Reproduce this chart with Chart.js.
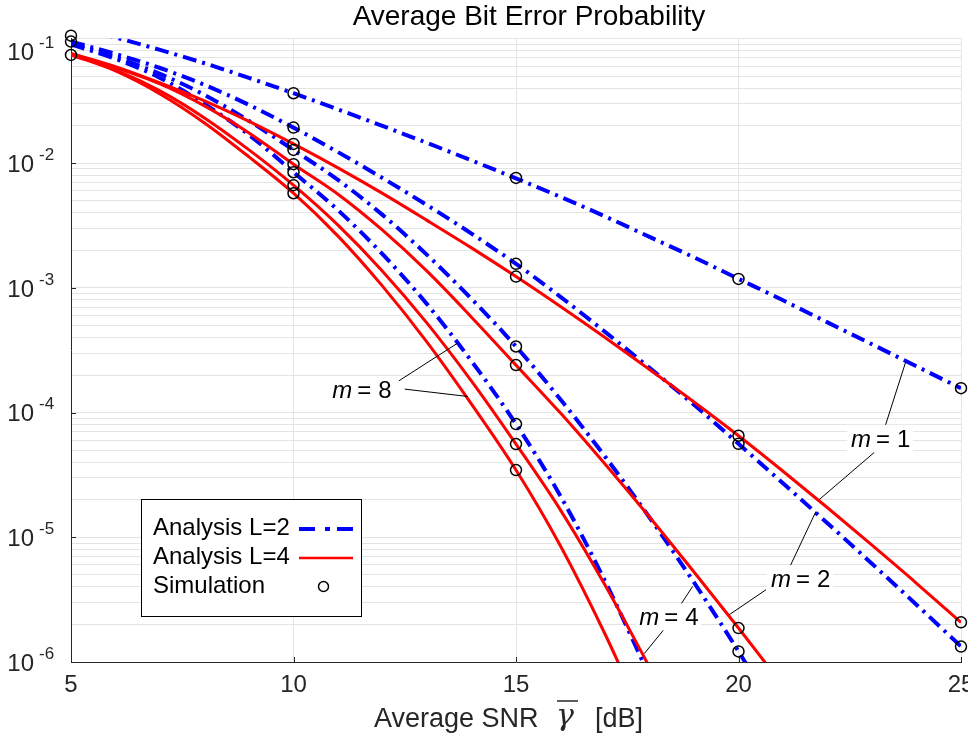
<!DOCTYPE html>
<html>
<head>
<meta charset="utf-8">
<title>Average Bit Error Probability</title>
<script src="https://cdn.jsdelivr.net/npm/chart.js@4.4.1/dist/chart.umd.min.js"></script>
<style>
    html, body { margin: 0; padding: 0; background: #fff; }
    canvas { display: block; }
</style>
</head>
<body>
<canvas id="berChart" width="968" height="737"></canvas>
<script>
// SNR grid of the analysis curves (dB)
const snrDb = [5, 6, 7, 8, 9, 10, 11, 12, 13, 14, 15, 16, 17, 18, 19, 20, 21, 22, 23, 24, 25];

// Analysis, L = 2 (blue, dash-dot)
const berL2m1 = [0.1249, 0.1019, 0.0810, 0.0633, 0.0483, 0.0364, 0.0270, 0.0199, 0.01455, 0.01053, 0.00755, 0.00537, 0.003746, 0.002566, 0.001757, 0.001182, 7.95e-4, 5.29e-4, 3.53e-4, 2.35e-4, 1.566e-4];
const berL2m2 = [0.0944, 0.0752, 0.0580, 0.04243, 0.02933, 0.01929, 0.01227, 0.00760, 0.004614, 0.002727, 0.001559, 8.48e-4, 4.44e-4, 2.286e-4, 1.155e-4, 5.62e-5, 2.712e-5, 1.296e-5, 6.14e-6, 2.88e-6, 1.334e-6];
const berL2m4 = [0.0913, 0.0711, 0.0520, 0.03528, 0.02183, 0.01278, 0.007345, 0.003851, 0.001840, 8.17e-4, 3.388e-4, 1.274e-4, 4.446e-5, 1.442e-5, 4.345e-6, 1.216e-6, 3.14e-7];
const berL2m8 = [0.0896, 0.0686, 0.0483, 0.02988, 0.01686, 0.008468, 0.004200, 0.001865, 7.41e-4, 2.587e-4, 8.09e-5, 2.142e-5, 4.46e-6, 7.72e-7];

// Analysis, L = 4 (red, solid)
const berL4m1 = [0.0760, 0.0595, 0.04403, 0.03158, 0.02163, 0.01428, 0.00917, 0.005725, 0.003479, 0.002094, 0.001233, 7.09e-4, 4.0e-4, 2.215e-4, 1.216e-4, 6.52e-5, 3.385e-5, 1.725e-5, 8.64e-6, 4.28e-6, 2.077e-6];
const berL4m2 = [0.0752, 0.0585, 0.04321, 0.02879, 0.01749, 0.00982, 0.005642, 0.002903, 0.001362, 5.825e-4, 2.403e-4, 9.91e-5, 3.866e-5, 1.453e-5, 5.265e-6, 1.873e-6, 6.46e-7];
const berL4m4 = [0.0745, 0.05597, 0.03799, 0.02307, 0.01278, 0.006662, 0.003184, 0.001362, 5.218e-4, 1.789e-4, 5.591e-5, 1.653e-5, 4.142e-6, 9.12e-7];
const berL4m8 = [0.0740, 0.05495, 0.03593, 0.02104, 0.01123, 0.005746, 0.002600, 0.001033, 3.675e-4, 1.17e-4, 3.461e-5, 8.51e-6, 1.677e-6, 2.75e-7];

// Simulation (circles)
const simSnr = [5, 5, 5, 10, 10, 10, 10, 10, 10, 10, 10, 15, 15, 15, 15, 15, 15, 15, 15, 20, 20, 20, 20, 20, 25, 25, 25];
const simBer = [0.1053, 0.0944, 0.0738,
    0.0364, 0.01929, 0.01428, 0.01278, 0.00982, 0.008468, 0.006662, 0.005746,
    0.00762, 0.001559, 0.001233, 3.388e-4, 2.403e-4, 8.09e-5, 5.59e-5, 3.46e-5,
    0.00118, 6.52e-5, 5.62e-5, 1.87e-6, 1.216e-6,
    1.57e-4, 2.08e-6, 1.33e-6];

// Axis ticks
const xTicks = [5, 10, 15, 20, 25];
const yDecades = [1e-6, 1e-5, 1e-4, 1e-3, 1e-2, 1e-1];

// m = ... callouts, anchored in data units
const mLabels = [
    { m: "1", x: 22.53, y: 5.32e-5, lines: [[23.27, 7.28e-5, 23.76, 2.568e-4], [23.05, 4.79e-5, 21.81, 2.0e-5]] },
    { m: "2", x: 20.73, y: 3.99e-6, lines: [[21.14, 5.67e-6, 21.74, 1.612e-5], [20.62, 3.80e-6, 19.79, 2.39e-6]] },
    { m: "4", x: 17.77, y: 1.965e-6, lines: [[18.60, 2.544e-6, 18.97, 4.04e-6], [18.37, 1.908e-6, 17.88, 1.165e-6]] },
    { m: "8", x: 10.87, y: 1.306e-4, lines: [[12.37, 1.80e-4, 13.69, 3.61e-4], [12.50, 1.543e-4, 13.92, 1.346e-4]] }
];

const FONT = "\"Liberation Sans\", Arial, Helvetica, sans-serif";
const BLUE = "#0000ff";
const RED = "#ff0000";
const AXIS = "#262626";
const GRID = "#e4e4e4";

const toPoints = (xs, ys) => ys.map((v, i) => ({ x: xs[i], y: v }));

// all 1..9 x 10^k grid lines between 1e-6 and 1e-1
const yGrid = [];
yDecades.forEach((d, i) => {
    if (i === yDecades.length - 1) { yGrid.push(d); return; }
    for (let k = 1; k <= 9; k++) yGrid.push(+(k * d).toPrecision(3));
});

function analysisLine(data, color, dashed) {
    return {
        type: "line",
        data: toPoints(snrDb, data),
        borderColor: color,
        borderWidth: dashed ? 4 : 3,
        borderDash: dashed ? [14, 6, 3, 6] : [],
        pointRadius: 0,
        fill: false,
        cubicInterpolationMode: "monotone",
        order: dashed ? 2 : 1
    };
}

const overlay = {
    id: "overlay",
    afterDraw(chart) {
        const { ctx, chartArea: a, scales: { x, y } } = chart;
        ctx.save();

        // inward tick marks
        ctx.strokeStyle = AXIS;
        ctx.lineWidth = 1;
        ctx.beginPath();
        yDecades.forEach(v => {
            const py = Math.round(y.getPixelForValue(v)) + 0.5;
            ctx.moveTo(a.left, py);
            ctx.lineTo(a.left + 5, py);
        });
        xTicks.forEach(v => {
            const px = Math.round(x.getPixelForValue(v)) + 0.5;
            ctx.moveTo(px, a.bottom);
            ctx.lineTo(px, a.bottom - 5);
        });
        ctx.stroke();

        // y tick labels 10^-k
        ctx.fillStyle = AXIS;
        ctx.textBaseline = "middle";
        yDecades.forEach(v => {
            const k = Math.round(Math.log10(v));
            const cy = Math.max(y.getPixelForValue(v) + 2, 53);
            ctx.font = "24px " + FONT;
            ctx.textAlign = "right";
            ctx.fillText("10", 34, cy);
            ctx.font = "17px " + FONT;
            ctx.textAlign = "left";
            ctx.fillText("-" + (-k), 39, cy - 10);
        });

        // title
        ctx.fillStyle = "#000";
        ctx.textBaseline = "alphabetic";
        ctx.textAlign = "center";
        ctx.font = "28px " + FONT;
        ctx.fillText("Average Bit Error Probability", 529, 25);

        // x axis title with gamma bar
        ctx.fillStyle = AXIS;
        ctx.textAlign = "left";
        ctx.font = "27px " + FONT;
        ctx.fillText("Average SNR", 374, 727);
        ctx.font = "italic 30px \"DejaVu Serif\", serif";
        ctx.fillText("\u03b3", 556, 725);
        ctx.font = "27px " + FONT;
        ctx.fillText("[dB]", 595, 727);
        ctx.strokeStyle = AXIS;
        ctx.lineWidth = 1.5;
        ctx.beginPath();
        ctx.moveTo(557, 701);
        ctx.lineTo(578, 701);
        ctx.stroke();

        // legend box
        ctx.fillStyle = "#fff";
        ctx.fillRect(141, 499, 220, 117);
        ctx.strokeStyle = "#000";
        ctx.lineWidth = 1;
        ctx.strokeRect(141.5, 499.5, 220, 117);
        ctx.fillStyle = "#000";
        ctx.font = "24px " + FONT;
        ctx.textBaseline = "middle";
        ctx.fillText("Analysis L=2", 153, 528);
        ctx.fillText("Analysis L=4", 153, 557);
        ctx.fillText("Simulation", 153, 586);
        ctx.lineWidth = 4;
        ctx.strokeStyle = BLUE;
        ctx.setLineDash([16, 10, 5, 7]);
        ctx.beginPath();
        ctx.moveTo(299, 529);
        ctx.lineTo(353, 529);
        ctx.stroke();
        ctx.setLineDash([]);
        ctx.lineWidth = 2.5;
        ctx.strokeStyle = RED;
        ctx.beginPath();
        ctx.moveTo(299, 558);
        ctx.lineTo(353, 558);
        ctx.stroke();
        ctx.lineWidth = 1.5;
        ctx.strokeStyle = "#000";
        ctx.beginPath();
        ctx.arc(323.5, 586.5, 5, 0, Math.PI * 2);
        ctx.stroke();

        // m = ... callouts
        mLabels.forEach(lb => {
            ctx.strokeStyle = "#000";
            ctx.lineWidth = 1;
            ctx.beginPath();
            lb.lines.forEach(([x1, y1, x2, y2]) => {
                ctx.moveTo(x.getPixelForValue(x1), y.getPixelForValue(y1));
                ctx.lineTo(x.getPixelForValue(x2), y.getPixelForValue(y2));
            });
            ctx.stroke();
            const px = x.getPixelForValue(lb.x);
            const py = y.getPixelForValue(lb.y);
            ctx.fillStyle = "#fff";
            ctx.fillRect(px - 4, py - 22, 66, 27);
            ctx.fillStyle = "#000";
            ctx.textBaseline = "alphabetic";
            ctx.textAlign = "left";
            ctx.font = "italic 24px " + FONT;
            ctx.fillText("m", px, py);
            ctx.font = "24px " + FONT;
            ctx.fillText("=", px + 25, py);
            ctx.fillText(lb.m, px + 46, py);
        });

        ctx.restore();
    }
};

new Chart(document.getElementById("berChart"), {
    type: "line",
    data: {
        datasets: [
            analysisLine(berL2m1, BLUE, true),
            analysisLine(berL2m2, BLUE, true),
            analysisLine(berL2m4, BLUE, true),
            analysisLine(berL2m8, BLUE, true),
            analysisLine(berL4m1, RED, false),
            analysisLine(berL4m2, RED, false),
            analysisLine(berL4m4, RED, false),
            analysisLine(berL4m8, RED, false),
            {
                type: "line",
                label: "Simulation",
                data: toPoints(simSnr, simBer),
                showLine: false,
                pointStyle: "circle",
                pointRadius: 5.5,
                pointBorderWidth: 1.5,
                pointBorderColor: "#000",
                pointBackgroundColor: "rgba(0,0,0,0)",
                clip: false,
                order: 0
            }
        ]
    },
    options: {
        responsive: false,
        devicePixelRatio: 1,
        animation: false,
        events: [],
        layout: { padding: { top: 38.5, right: 6, left: 0, bottom: 0 } },
        plugins: {
            legend: { display: false },
            title: { display: false },
            tooltip: { enabled: false }
        },
        scales: {
            x: {
                type: "linear",
                min: 5,
                max: 25,
                afterBuildTicks: s => { s.ticks = xTicks.map(v => ({ value: v })); },
                ticks: { font: { family: FONT, size: 24 }, color: AXIS, padding: 9, maxRotation: 0 },
                grid: { color: GRID, drawTicks: false },
                border: { color: AXIS, width: 1 },
                afterFit: s => { s.height = 75; s.paddingLeft = 0; s.paddingRight = 0; }
            },
            y: {
                type: "logarithmic",
                min: 1e-6,
                max: 1e-1,
                afterBuildTicks: s => { s.ticks = yGrid.map(v => ({ value: v })); },
                ticks: { display: false },
                grid: { color: GRID, drawTicks: false },
                border: { color: AXIS, width: 1 },
                afterFit: s => { s.width = 71; }
            }
        }
    },
    plugins: [overlay]
});
</script>
</body>
</html>
